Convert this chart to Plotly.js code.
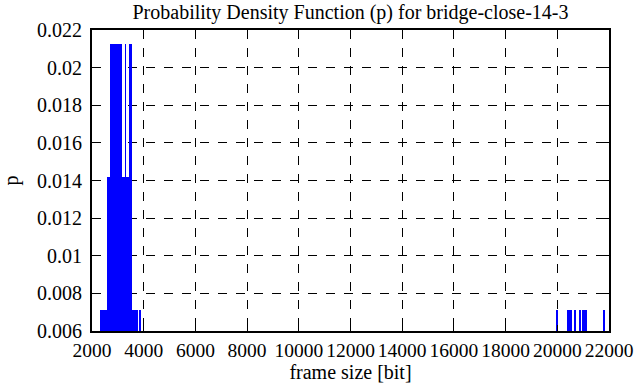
<!DOCTYPE html>
<html>
<head>
<meta charset="utf-8">
<script src="https://cdn.plot.ly/plotly-3.0.1.min.js"></script>
<style>
html,body{margin:0;padding:0;background:#fff;}
#chart{width:636px;height:387px;}
</style>
</head>
<body>
<div id="chart"></div>
<script>
// Histogram segments: frame size range [bit] and probability p
const binLo = [2290, 2599, 2715, 3168, 3268, 3334, 3450, 3528, 3837, 19961, 20386, 20630, 20850, 20966, 21778];
const binHi = [2599, 2715, 3168, 3268, 3334, 3450, 3528, 3786, 3914, 20038, 20568, 20722, 20916, 21160, 21855];
const pVals = [0.00709, 0.01418, 0.02128, 0.01418, 0.02128, 0.01418, 0.02128, 0.00709, 0.00709, 0.00709, 0.00709, 0.00709, 0.00709, 0.00709, 0.00709];

const xTickVals = [2000, 4000, 6000, 8000, 10000, 12000, 14000, 16000, 18000, 20000, 22000];
const xTickText = ["2000", "4000", "6000", "8000", "10000", "12000", "14000", "16000", "18000", "20000", "22000"];
const yTickVals = [0.006, 0.008, 0.010, 0.012, 0.014, 0.016, 0.018, 0.020, 0.022];
const yTickText = ["0.006", "0.008", "0.01", "0.012", "0.014", "0.016", "0.018", "0.02", "0.022"];

const xCenters = binLo.map((lo, i) => (lo + binHi[i]) / 2);
const widths = binLo.map((lo, i) => binHi[i] - lo);

const font = {family: "Liberation Serif, Times New Roman, serif", size: 20, color: "#000"};
const xTickFont = {family: "Liberation Serif, Times New Roman, serif", size: 19.5, color: "#000"};

const trace = {
  type: "bar",
  x: xCenters,
  y: pVals,
  width: widths,
  marker: {color: "#0000ff", line: {width: 0}},
  hoverinfo: "x+y"
};

const axisCommon = {
  showline: true,
  linecolor: "#000",
  linewidth: 2,
  mirror: "allticks",
  ticks: "inside",
  ticklen: 6,
  tickwidth: 1,
  tickcolor: "#000",
  showgrid: true,
  gridcolor: "#000",
  gridwidth: 1,
  griddash: "dash",
  zeroline: false,
  tickfont: font,
  tickmode: "array",
  tickangle: 0
};

const layout = {
  width: 636,
  height: 387,
  margin: {l: 92, r: 27, t: 30, b: 56},
  paper_bgcolor: "#fff",
  plot_bgcolor: "#fff",
  showlegend: false,
  bargap: 0,
  font: font,
  title: {text: "Probability Density Function (p) for bridge-close-14-3", font: font, x: 0.5, xref: "paper", xanchor: "center", y: 0.968, yref: "container", yanchor: "middle"},
  xaxis: Object.assign({}, axisCommon, {
    range: [2000, 22000],
    tickvals: xTickVals,
    ticktext: xTickText,
    tickfont: xTickFont,
    ticklabelstandoff: 1,
    title: {text: "frame size [bit]", font: font, standoff: 4}
  }),
  yaxis: Object.assign({}, axisCommon, {
    range: [0.006, 0.022],
    tickvals: yTickVals,
    ticktext: yTickText,
    ticklabelstandoff: 4,
    title: {text: "p", font: font, standoff: 22}
  })
};

Plotly.newPlot("chart", [trace], layout, {displayModeBar: false, staticPlot: true});
</script>
</body>
</html>
